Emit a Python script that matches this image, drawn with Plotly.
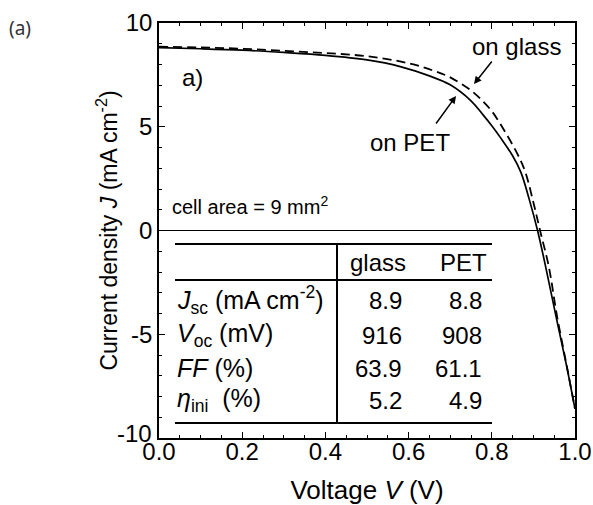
import plotly.graph_objects as go

# ---- data ----
V_pet = [0.0, 0.1, 0.2, 0.3, 0.4, 0.5, 0.58, 0.65, 0.7, 0.75, 0.78, 0.8, 0.82, 0.85, 0.87, 0.89, 0.91, 0.93, 0.955, 0.98, 1.0]
J_pet = [8.81, 8.76, 8.69, 8.58, 8.44, 8.22, 7.9, 7.45, 7.02, 6.25, 5.55, 5.05, 4.5, 3.6, 2.8, 1.5, 0.0, -1.8, -4.2, -6.55, -8.6]

V_glass = [0.0, 0.1, 0.2, 0.3, 0.4, 0.5, 0.6, 0.66, 0.7, 0.75, 0.78, 0.8, 0.82, 0.86, 0.88, 0.9, 0.916, 0.937, 0.957, 0.98, 1.0]
J_glass = [8.86, 8.82, 8.76, 8.66, 8.55, 8.4, 8.06, 7.7, 7.38, 6.75, 6.2, 5.75, 5.15, 3.75, 2.85, 1.35, 0.0, -1.74, -4.15, -6.5, -8.6]

x_ticks = [0.0, 0.2, 0.4, 0.6, 0.8, 1.0]
y_ticks = [-10, -5, 0, 5, 10]
y_ticktext = ["", "-5", "0", "5", "10"]   # "-10" is drawn slightly raised, as in the original
y_bottom_label = "-10"

table_header = ["glass", "PET"]
table_rows = ["<i>J</i><sub>sc</sub> (mA cm<sup>-2</sup>)",
              "<i>V</i><sub>oc</sub> (mV)",
              "<i>FF</i> (%)",
              "<i>η</i><sub>ini</sub>  (%)"]
table_glass = ["8.9", "916", "63.9", "5.2"]
table_pet = ["8.8", "908", "61.1", "4.9"]

# ---- layout geometry (page body margin removed by post_script) ----
W, H = 593, 505
# plot area in reference-pixel coords: x 159..575, y 23..438
L, T = 159, 23
R = W - 575
B = H - 438
PW, PH = W - L - R, H - T - B


def px(x):
    return (x - L) / PW


def py(y):
    return (H - B - y) / PH


FONT = "Liberation Sans, Arial, sans-serif"
TICK = 24
TBL = 24

fig = go.Figure()
fig.add_trace(go.Scatter(x=V_glass, y=J_glass, mode="lines",
                         line=dict(color="black", width=1.8, dash="9px,5px", shape="spline", smoothing=1.0),
                         showlegend=False, hoverinfo="skip"))
fig.add_trace(go.Scatter(x=V_pet, y=J_pet, mode="lines",
                         line=dict(color="black", width=1.7, shape="spline", smoothing=1.0),
                         showlegend=False, hoverinfo="skip"))

axis_common = dict(showline=True, linecolor="black", linewidth=1.5, mirror="allticks",
                   ticks="inside", ticklen=6, tickwidth=1.2, tickcolor="black",
                   showgrid=False, ticklabeloverflow="allow",
                   tickfont=dict(family=FONT, size=TICK, color="black"))

fig.update_xaxes(range=[0, 1], tickvals=x_ticks, tickformat=".1f", zeroline=False,
                 minor=dict(dtick=0.05, ticks="inside", ticklen=3, tickcolor="black", tickwidth=1, showgrid=False),
                 title=dict(text="Voltage <i>V</i> (V)", font=dict(family=FONT, size=26, color="black"), standoff=20),
                 ticklabelstandoff=-9,
                 **axis_common)
fig.update_yaxes(range=[-10, 10], tickvals=y_ticks, ticktext=y_ticktext,
                 zeroline=True, zerolinecolor="black", zerolinewidth=1.2,
                 minor=dict(dtick=1, ticks="inside", ticklen=3, tickcolor="black", tickwidth=1, showgrid=False),
                 title=dict(text="Current density <i>J</i> (mA cm<sup>-2</sup>)",
                            font=dict(family=FONT, size=23, color="black"), standoff=2),
                 ticklabelstandoff=0,
                 **axis_common)

shapes = []
line_style = dict(color="black", width=2)
for yy in (244, 280, 423):
    shapes.append(dict(type="line", xref="paper", yref="paper", x0=px(175), x1=px(492),
                       y0=py(yy), y1=py(yy), line=line_style))
shapes.append(dict(type="line", xref="paper", yref="paper", x0=px(337), x1=px(337),
                   y0=py(244), y1=py(423), line=line_style))

ann = []


def text(t, x, y, size=TBL, xanchor="center", yanchor="middle", family=FONT, color="black"):
    ann.append(dict(text=t, x=px(x), y=py(y), xref="paper", yref="paper", showarrow=False,
                    xanchor=xanchor, yanchor=yanchor, font=dict(family=family, size=size, color=color)))


text(table_header[0], 378, 262)
text(table_header[1], 463, 262)
row_y = [300, 335, 368, 400]
for i, lab in enumerate(table_rows):
    text(lab, 175, row_y[i], size=25, xanchor="left")
    text(table_glass[i], 404, row_y[i], xanchor="right")
    text(table_pet[i], 484, row_y[i], xanchor="right")

text("a)", 192, 77, size=24)
text("on glass", 516, 46, size=24)
text("on PET", 410, 142, size=24)
text("cell area = 9 mm<sup>2</sup>", 170, 206, size=20, xanchor="left")
text("(a)", 7, 28, size=19, xanchor="left", family="Noto Sans, Open Sans, sans-serif", color="#333")

# bottom y tick label, raised a little like in the original
ann.append(dict(text=y_bottom_label, x=0, y=y_ticks[0], xref="paper", yref="y", showarrow=False,
                xanchor="right", yanchor="middle", xshift=-5, yshift=5,
                font=dict(family=FONT, size=TICK, color="black")))

# arrows
ann.append(dict(x=px(474), y=py(84), xref="paper", yref="paper", text="", showarrow=True,
                ax=19, ay=-24, arrowhead=2, arrowsize=1, arrowwidth=1.5, arrowcolor="black"))
ann.append(dict(x=px(456), y=py(96), xref="paper", yref="paper", text="", showarrow=True,
                ax=-21, ay=29, arrowhead=2, arrowsize=1, arrowwidth=1.5, arrowcolor="black"))

fig.update_layout(width=W, height=H, margin=dict(l=L, r=R, t=T, b=B, autoexpand=False),
                  paper_bgcolor="white", plot_bgcolor="white",
                  font=dict(family=FONT, color="black"),
                  shapes=shapes, annotations=ann, showlegend=False)

fig.write_html("out.html",
               config={"displayModeBar": False},
               post_script="document.body.style.margin='0';document.body.style.overflow='hidden';")
